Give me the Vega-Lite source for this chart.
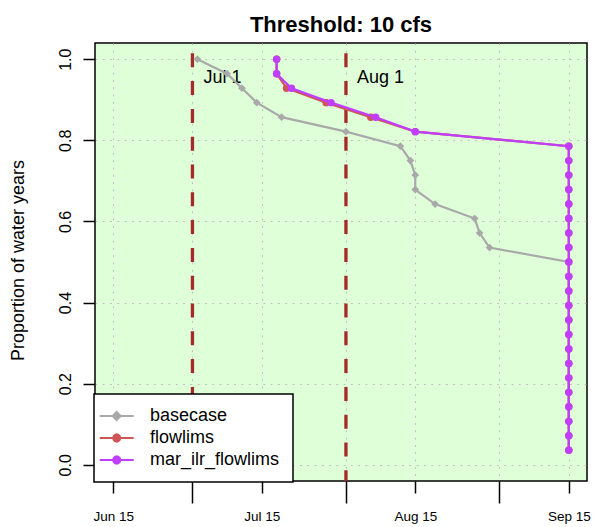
{
  "$schema": "https://vega.github.io/schema/vega-lite/v6.json",
  "width": 492,
  "height": 438,
  "autosize": "none",
  "padding": {"left": 95, "top": 43, "right": 6, "bottom": 46},
  "background": "white",
  "config": {
    "font": "Liberation Sans",
    "view": {"fill": "#DEFFD8", "stroke": "black", "strokeWidth": 1.5},
    "axis": {
      "labelColor": "black", "titleColor": "black", "tickColor": "black",
      "gridColor": "#BEBEBE", "gridDash": [1.8, 5.5], "gridWidth": 1,
      "domain": false, "labelFont": "Liberation Sans", "titleFont": "Liberation Sans"
    }
  },
  "title": {
    "text": "Threshold: 10 cfs", "fontSize": 22, "fontWeight": "bold", "anchor": "middle",
    "baseline": "alphabetic", "offset": 11, "dy": 24, "color": "black", "font": "Liberation Sans"
  },
  "datasets": {
    "curves": [
      {"series": "basecase", "date": "2021/07/02", "p": 1},
      {"series": "basecase", "date": "2021/07/08", "p": 0.9643},
      {"series": "basecase", "date": "2021/07/11", "p": 0.9286},
      {"series": "basecase", "date": "2021/07/14", "p": 0.8929},
      {"series": "basecase", "date": "2021/07/19", "p": 0.8571},
      {"series": "basecase", "date": "2021/08/01", "p": 0.8214},
      {"series": "basecase", "date": "2021/08/12", "p": 0.7857},
      {"series": "basecase", "date": "2021/08/14", "p": 0.75},
      {"series": "basecase", "date": "2021/08/15", "p": 0.7143},
      {"series": "basecase", "date": "2021/08/15", "p": 0.6786},
      {"series": "basecase", "date": "2021/08/19", "p": 0.6429},
      {"series": "basecase", "date": "2021/08/27", "p": 0.6071},
      {"series": "basecase", "date": "2021/08/28", "p": 0.5714},
      {"series": "basecase", "date": "2021/08/30", "p": 0.5357},
      {"series": "basecase", "date": "2021/09/15", "p": 0.5},
      {"series": "basecase", "date": "2021/09/15", "p": 0.4643},
      {"series": "basecase", "date": "2021/09/15", "p": 0.4286},
      {"series": "basecase", "date": "2021/09/15", "p": 0.3929},
      {"series": "basecase", "date": "2021/09/15", "p": 0.3571},
      {"series": "basecase", "date": "2021/09/15", "p": 0.3214},
      {"series": "basecase", "date": "2021/09/15", "p": 0.2857},
      {"series": "basecase", "date": "2021/09/15", "p": 0.25},
      {"series": "basecase", "date": "2021/09/15", "p": 0.2143},
      {"series": "basecase", "date": "2021/09/15", "p": 0.1786},
      {"series": "basecase", "date": "2021/09/15", "p": 0.1429},
      {"series": "basecase", "date": "2021/09/15", "p": 0.1071},
      {"series": "basecase", "date": "2021/09/15", "p": 0.0714},
      {"series": "basecase", "date": "2021/09/15", "p": 0.0357},
      {"series": "flowlims", "date": "2021/07/18", "p": 1},
      {"series": "flowlims", "date": "2021/07/18", "p": 0.9643},
      {"series": "flowlims", "date": "2021/07/20", "p": 0.9286},
      {"series": "flowlims", "date": "2021/07/28", "p": 0.8929},
      {"series": "flowlims", "date": "2021/08/06", "p": 0.8571},
      {"series": "flowlims", "date": "2021/08/15", "p": 0.8214},
      {"series": "flowlims", "date": "2021/09/15", "p": 0.7857},
      {"series": "flowlims", "date": "2021/09/15", "p": 0.75},
      {"series": "flowlims", "date": "2021/09/15", "p": 0.7143},
      {"series": "flowlims", "date": "2021/09/15", "p": 0.6786},
      {"series": "flowlims", "date": "2021/09/15", "p": 0.6429},
      {"series": "flowlims", "date": "2021/09/15", "p": 0.6071},
      {"series": "flowlims", "date": "2021/09/15", "p": 0.5714},
      {"series": "flowlims", "date": "2021/09/15", "p": 0.5357},
      {"series": "flowlims", "date": "2021/09/15", "p": 0.5},
      {"series": "flowlims", "date": "2021/09/15", "p": 0.4643},
      {"series": "flowlims", "date": "2021/09/15", "p": 0.4286},
      {"series": "flowlims", "date": "2021/09/15", "p": 0.3929},
      {"series": "flowlims", "date": "2021/09/15", "p": 0.3571},
      {"series": "flowlims", "date": "2021/09/15", "p": 0.3214},
      {"series": "flowlims", "date": "2021/09/15", "p": 0.2857},
      {"series": "flowlims", "date": "2021/09/15", "p": 0.25},
      {"series": "flowlims", "date": "2021/09/15", "p": 0.2143},
      {"series": "flowlims", "date": "2021/09/15", "p": 0.1786},
      {"series": "flowlims", "date": "2021/09/15", "p": 0.1429},
      {"series": "flowlims", "date": "2021/09/15", "p": 0.1071},
      {"series": "flowlims", "date": "2021/09/15", "p": 0.0714},
      {"series": "flowlims", "date": "2021/09/15", "p": 0.0357},
      {"series": "mar_ilr_flowlims", "date": "2021/07/18", "p": 1},
      {"series": "mar_ilr_flowlims", "date": "2021/07/18", "p": 0.9643},
      {"series": "mar_ilr_flowlims", "date": "2021/07/21", "p": 0.9286},
      {"series": "mar_ilr_flowlims", "date": "2021/07/29", "p": 0.8929},
      {"series": "mar_ilr_flowlims", "date": "2021/08/07", "p": 0.8571},
      {"series": "mar_ilr_flowlims", "date": "2021/08/15", "p": 0.8214},
      {"series": "mar_ilr_flowlims", "date": "2021/09/15", "p": 0.7857},
      {"series": "mar_ilr_flowlims", "date": "2021/09/15", "p": 0.75},
      {"series": "mar_ilr_flowlims", "date": "2021/09/15", "p": 0.7143},
      {"series": "mar_ilr_flowlims", "date": "2021/09/15", "p": 0.6786},
      {"series": "mar_ilr_flowlims", "date": "2021/09/15", "p": 0.6429},
      {"series": "mar_ilr_flowlims", "date": "2021/09/15", "p": 0.6071},
      {"series": "mar_ilr_flowlims", "date": "2021/09/15", "p": 0.5714},
      {"series": "mar_ilr_flowlims", "date": "2021/09/15", "p": 0.5357},
      {"series": "mar_ilr_flowlims", "date": "2021/09/15", "p": 0.5},
      {"series": "mar_ilr_flowlims", "date": "2021/09/15", "p": 0.4643},
      {"series": "mar_ilr_flowlims", "date": "2021/09/15", "p": 0.4286},
      {"series": "mar_ilr_flowlims", "date": "2021/09/15", "p": 0.3929},
      {"series": "mar_ilr_flowlims", "date": "2021/09/15", "p": 0.3571},
      {"series": "mar_ilr_flowlims", "date": "2021/09/15", "p": 0.3214},
      {"series": "mar_ilr_flowlims", "date": "2021/09/15", "p": 0.2857},
      {"series": "mar_ilr_flowlims", "date": "2021/09/15", "p": 0.25},
      {"series": "mar_ilr_flowlims", "date": "2021/09/15", "p": 0.2143},
      {"series": "mar_ilr_flowlims", "date": "2021/09/15", "p": 0.1786},
      {"series": "mar_ilr_flowlims", "date": "2021/09/15", "p": 0.1429},
      {"series": "mar_ilr_flowlims", "date": "2021/09/15", "p": 0.1071},
      {"series": "mar_ilr_flowlims", "date": "2021/09/15", "p": 0.0714},
      {"series": "mar_ilr_flowlims", "date": "2021/09/15", "p": 0.0357}
    ],
    "refs": [
      {"date": "2021/07/01", "label": "Jul 1"},
      {"date": "2021/08/01", "label": "Aug 1"}
    ]
  },
  "layer": [
    {
      "data": {"name": "refs"},
      "mark": {"type": "rule", "color": "#A52A2A", "strokeWidth": 3.3, "strokeDash": [14, 13.8], "strokeDashOffset": 17.5},
      "encoding": {
        "x": {
          "field": "date", "type": "temporal",
          "scale": {
            "domain": [
              {"year": 2021, "month": 6, "date": 11, "hours": 7, "minutes": 41},
              {"year": 2021, "month": 9, "date": 18, "hours": 16, "minutes": 19}
            ],
            "nice": false
          },
          "axis": {
            "title": null,
            "values": [
              {"year": 2021, "month": 6, "date": 15},
              {"year": 2021, "month": 7, "date": 1},
              {"year": 2021, "month": 7, "date": 15},
              {"year": 2021, "month": 8, "date": 1},
              {"year": 2021, "month": 8, "date": 15},
              {"year": 2021, "month": 9, "date": 1},
              {"year": 2021, "month": 9, "date": 15}
            ],
            "grid": true,
            "tickSize": {"condition": {"test": "date(datum.value) === 1", "value": 22}, "value": 12},
            "tickWidth": 1.5,
            "labelExpr": "date(datum.value) === 15 ? timeFormat(datum.value, '%b %d') : ''",
            "labelFontSize": 13.5,
            "labelPadding": 16,
            "labelBaseline": "top",
            "labelFlush": false,
            "labelBound": false,
            "labelOverlap": false
          }
        }
      }
    },
    {
      "data": {"name": "refs"},
      "mark": {"type": "text", "align": "left", "baseline": "middle", "dx": 11, "fontSize": 18, "color": "black", "font": "Liberation Sans"},
      "encoding": {
        "x": {"field": "date", "type": "temporal"},
        "y": {"datum": 0.954, "type": "quantitative"},
        "text": {"field": "label"}
      }
    },
    {
      "data": {"name": "curves"},
      "transform": [{"filter": "datum.series === 'basecase'"}],
      "mark": {"type": "line", "strokeWidth": 2.2, "point": {"filled": true, "shape": "diamond", "size": 60}},
      "encoding": {
        "x": {"field": "date", "type": "temporal"},
        "y": {
          "field": "p", "type": "quantitative",
          "scale": {"domain": [-0.04, 1.04], "nice": false, "zero": false},
          "axis": {
            "values": [0, 0.2, 0.4, 0.6, 0.8, 1],
            "format": ".1f",
            "title": "Proportion of water years",
            "titleFontSize": 18, "titleFontWeight": "normal",
            "titleX": -77, "titleY": 217, "titleAngle": 270,
            "titleBaseline": "middle", "titleAlign": "center",
            "labelAngle": 270, "labelAlign": "center", "labelBaseline": "bottom",
            "labelFontSize": 16, "labelPadding": 10,
            "tickSize": 12, "tickWidth": 1.5, "grid": true
          }
        },
        "order": {"field": "p", "sort": "descending"},
        "color": {
          "field": "series", "type": "nominal",
          "scale": {"domain": ["basecase", "flowlims", "mar_ilr_flowlims"], "range": ["#A9A9A9", "#CD5555", "#BF3EFF"]},
          "legend": {
            "title": null,
            "orient": "none",
            "legendX": -1,
            "legendY": 351,
            "padding": 13,
            "fillColor": "white",
            "strokeColor": "black",
            "cornerRadius": 0,
            "symbolSize": 144,
            "symbolStrokeWidth": 2,
            "symbolOffset": 0.7,
            "labelOffset": 24.3,
            "rowPadding": 4,
            "labelFontSize": 18,
            "labelFont": "Liberation Sans",
            "labelColor": "black",
            "labelLimit": 300,
            "encode": {
              "legend": {"update": {"strokeWidth": {"value": 1.5}}},
              "symbols": {
                "update": {
                  "shape": [
                    {"test": "datum.value === 'basecase'", "value": "M-2.83,0H2.83M0,-0.67L0.67,0L0,0.67L-0.67,0Z"},
                    {"value": "M-2.83,0H2.83M0.6,0L0.52,0.3L0.3,0.52L0,0.6L-0.3,0.52L-0.52,0.3L-0.6,0L-0.52,-0.3L-0.3,-0.52L0,-0.6L0.3,-0.52L0.52,-0.3Z"}
                  ],
                  "fill": {"scale": "color", "field": "value"},
                  "stroke": {"scale": "color", "field": "value"},
                  "strokeWidth": {"value": 2},
                  "opacity": {"value": 1}
                }
              }
            }
          }
        }
      }
    },
    {
      "data": {"name": "curves"},
      "transform": [{"filter": "datum.series === 'flowlims'"}],
      "mark": {"type": "line", "strokeWidth": 2.2, "point": {"filled": true, "shape": "circle", "size": 55}},
      "encoding": {
        "x": {"field": "date", "type": "temporal"},
        "y": {"field": "p", "type": "quantitative"},
        "order": {"field": "p", "sort": "descending"},
        "color": {"field": "series", "type": "nominal"}
      }
    },
    {
      "data": {"name": "curves"},
      "transform": [{"filter": "datum.series === 'mar_ilr_flowlims'"}],
      "mark": {"type": "line", "strokeWidth": 2.2, "point": {"filled": true, "shape": "circle", "size": 55}},
      "encoding": {
        "x": {"field": "date", "type": "temporal"},
        "y": {"field": "p", "type": "quantitative"},
        "order": {"field": "p", "sort": "descending"},
        "color": {"field": "series", "type": "nominal"}
      }
    }
  ]
}
